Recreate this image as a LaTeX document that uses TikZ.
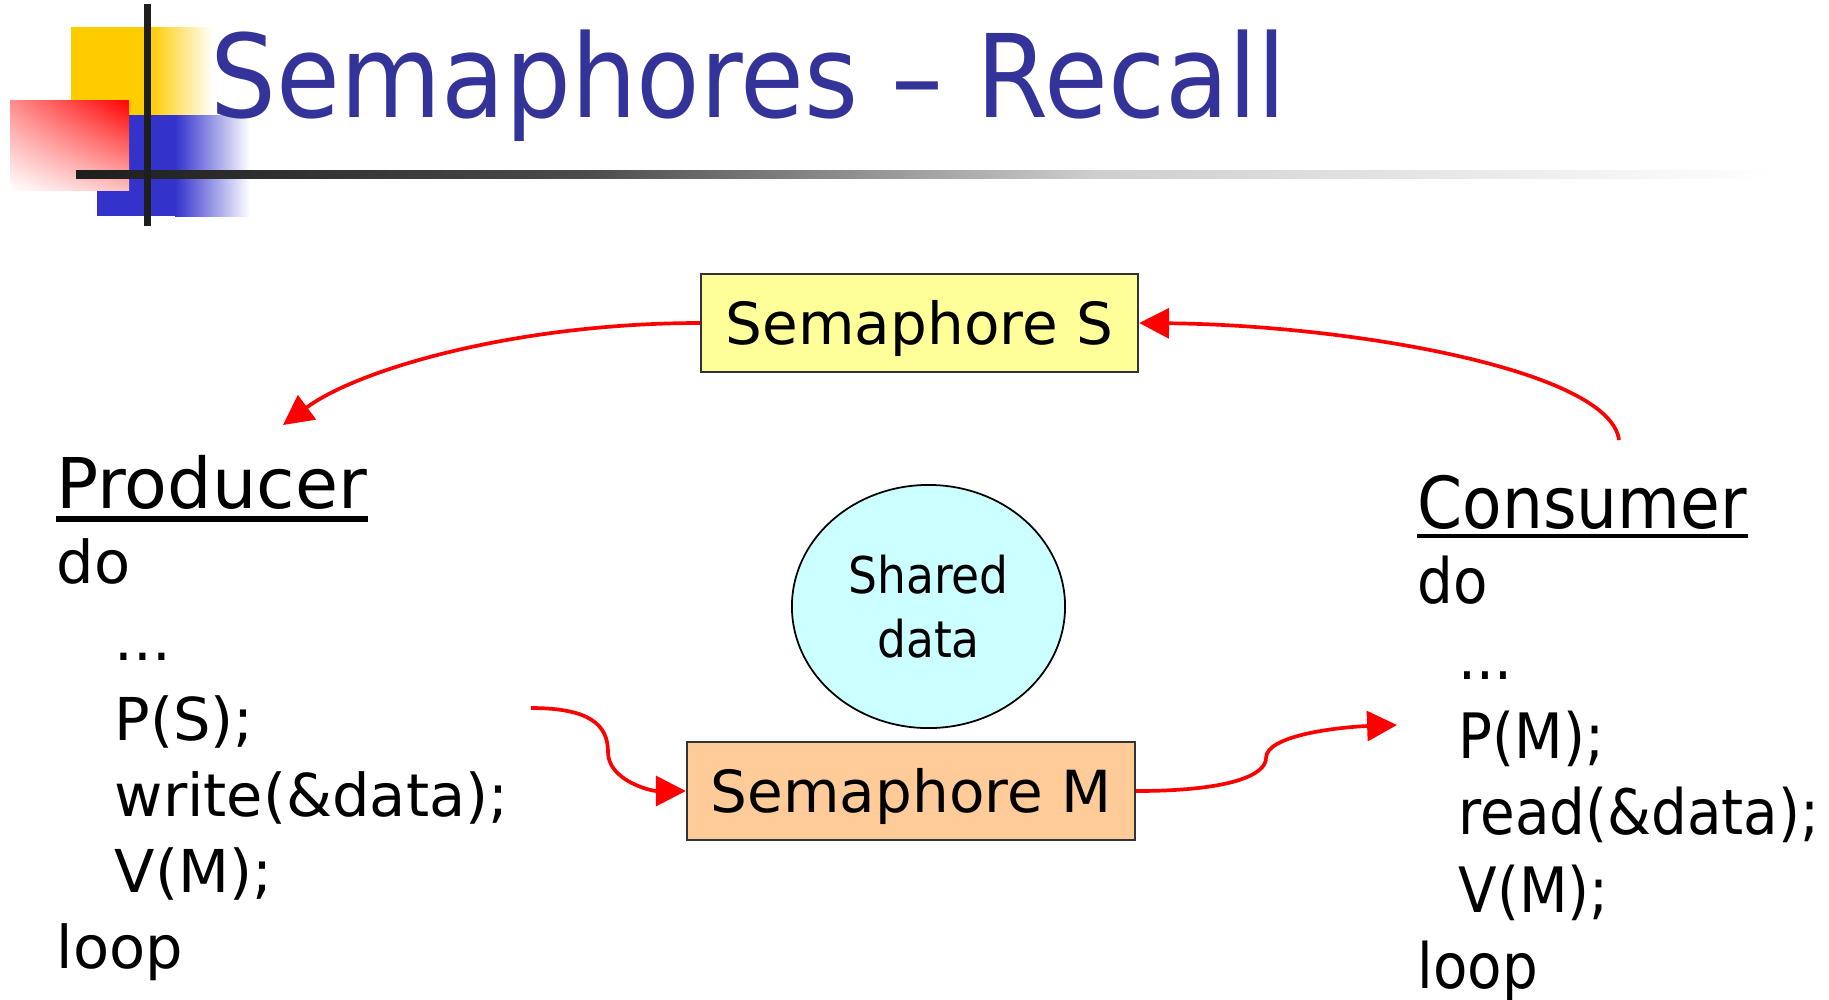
\documentclass[tikz,border=0pt]{standalone}
\usepackage{fontspec}
\setmainfont{DejaVu Sans}
\newfontfamily\tahoma[FakeStretch=0.9]{DejaVu Sans}
\usetikzlibrary{arrows.meta,shapes.geometric,shadings}

\definecolor{titleblue}{HTML}{333399}
\definecolor{logoyellow}{HTML}{FFCC00}
\definecolor{logoblue}{HTML}{3333CC}
\definecolor{boxyellow}{HTML}{FFFF99}
\definecolor{boxorange}{HTML}{FFCC99}
\definecolor{datacyan}{HTML}{CCFFFF}
\definecolor{ruledark}{HTML}{1E1E1E}

% rule under the title: dark on the left, fading out to the right
% (the path is fitted to the 25bp--75bp part of the shading)
\pgfdeclarehorizontalshading{rulefade}{100bp}{%
  color(0bp)=(ruledark); color(25bp)=(ruledark);
  color(40bp)=(ruledark!80!white); color(55bp)=(ruledark!22!white);
  color(75bp)=(white); color(100bp)=(white)}

\tikzset{
  semabox/.style={draw=black!80, line width=0.6pt, minimum height=0.98cm,
    inner sep=0pt, font=\fontsize{16.5}{19}\selectfont,
    text height=12pt, text depth=0pt},
  comic/.style={anchor=base west, inner sep=0pt, font=\fontsize{16.8}{20}\selectfont},
  comichead/.style={anchor=base west, inner sep=0pt, font=\fontsize{19.9}{24}\selectfont},
  sans/.style={anchor=base west, inner sep=0pt, font=\tahoma\fontsize{17.8}{21}\selectfont},
  sanshead/.style={anchor=base west, inner sep=0pt, font=\tahoma\fontsize{20.4}{24}\selectfont},
  flow/.style={draw=red, line width=1.05pt, -{Triangle[length=8.5pt,width=8.5pt]}},
  flowline/.style={draw=red, line width=1.05pt},
}

\begin{document}
\begin{tikzpicture}[x=0.01cm, y=-0.01cm]
\useasboundingbox (0,0) rectangle (1829,999);
\fill[white] (0,0) rectangle (1829,999);

% title logo
\fill[logoyellow] (71,27) rectangle (150,116);
\shade[left color=logoyellow, right color=white] (150,27) rectangle (213,116);
\fill[logoblue] (97,115) rectangle (175,216);
\shade[left color=logoblue, right color=white] (175,115) rectangle (250,216);
\shade[upper left=red!45, upper right=red, lower left=white, lower right=red!25]
  (10,100) rectangle (129,190);
\shade[shading=rulefade] (76,170) rectangle (1773,178);
\fill[ruledark] (144,4) rectangle (151,226);

% title
\node[anchor=base west, inner sep=0pt, text=titleblue,
  font=\tahoma\fontsize{32.8}{38}\selectfont] (title) at (210,117) {Semaphores – Recall};

% semaphores and shared data
\node[semabox, fill=boxyellow, minimum width=4.37cm] (semS) at (919.5,323) {Semaphore S};
\node[semabox, fill=boxorange, minimum width=4.48cm] (semM) at (911,791) {Semaphore M};
\node[ellipse, draw=black, line width=0.5pt, fill=datacyan, minimum width=2.73cm,
  minimum height=2.43cm, inner sep=0pt, align=center,
  font=\tahoma\fontsize{14.4}{18.2}\selectfont] (shared) at (928.5,606.5) {Shared\\data};

% producer
\node[comichead] (prod) at (56,508) {Producer};
\draw[line width=1.7pt] ([yshift=-3.1pt]prod.base west) -- ([yshift=-3.1pt]prod.base east);
\node[comic] (p1) at (56,583) {do};
\node[comic] (p2) at (114,660) {...};
\node[comic] (p3) at (114,740) {P(S);};
\node[comic] (p4) at (114,816) {write(\&data);};
\node[comic] (p5) at (114,892) {V(M);};
\node[comic] (p6) at (56,968) {loop};

% consumer
\node[sanshead] (cons) at (1417,528) {Consumer};
\draw[line width=1.2pt] ([yshift=-2.2pt]cons.base west) -- ([yshift=-2.2pt]cons.base east);
\node[sans] (c1) at (1417,603) {do};
\node[sans] (c2) at (1458,679) {...};
\node[sans] (c3) at (1458,758) {P(M);};
\node[sans] (c4) at (1458,834) {read(\&data);};
\node[sans] (c5) at (1458,912) {V(M);};
\node[sans] (c6) at (1417,988) {loop};

% connector ends
\coordinate (ptip) at (283,425);
\coordinate (cstart) at (1619,440);
\coordinate (pstart) at (531,708);
\coordinate (pbend) at (608,752);
\coordinate (cbend) at (1266,758);
\coordinate (ctip) at (1397,725);

% connectors
\draw[flow] (semS.west) .. controls (520,323) and (360,368) .. (ptip);
\draw[flow] (cstart) .. controls (1610,370) and (1350,325) .. (semS.east);
\draw[flowline] (pstart) .. controls (590,708) and (608,725) .. (pbend);
\draw[flow] (pbend) .. controls (608,780) and (650,791) .. (semM.west);
\draw[flowline] (semM.east) .. controls (1230,791) and (1266,775) .. (cbend);
\draw[flow] (cbend) .. controls (1266,735) and (1340,727) .. (ctip);
\end{tikzpicture}
\end{document}
